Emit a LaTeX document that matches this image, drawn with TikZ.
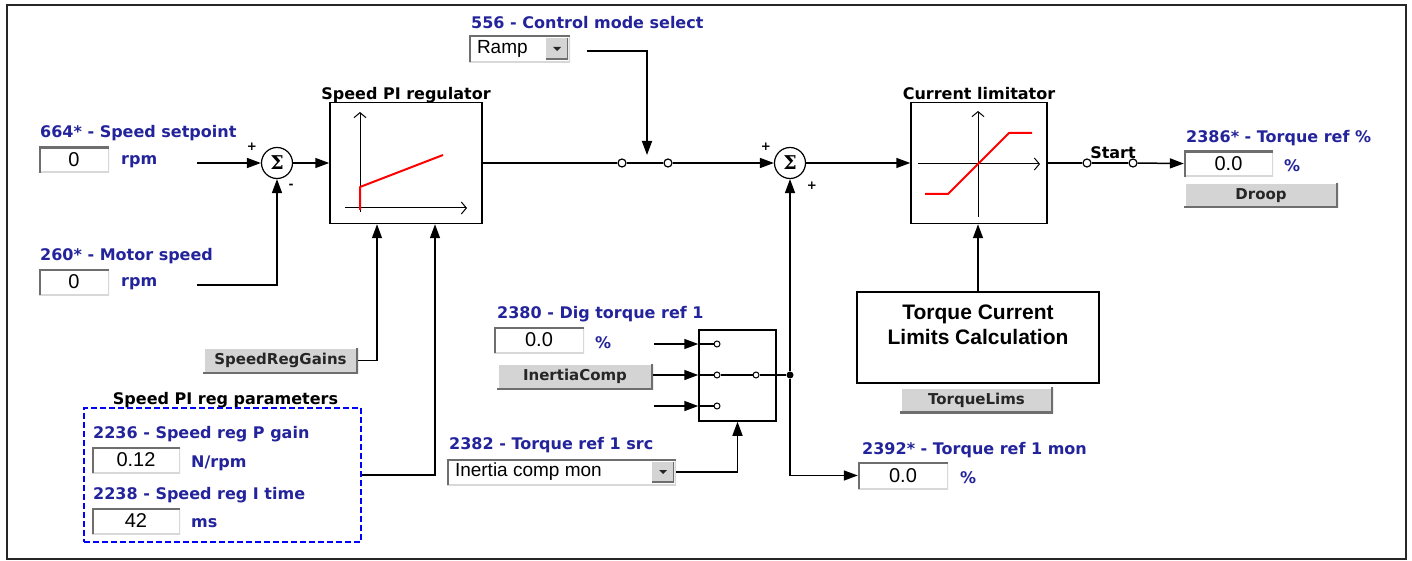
\documentclass[tikz,border=0pt]{standalone}
\usepackage{fontspec}
\setmainfont{DejaVu Sans}
\newfontfamily\arialfont{Liberation Sans}
\newfontfamily\sigmafont{DejaVu Serif}
\usetikzlibrary{arrows.meta,positioning}

\definecolor{lblblue}{HTML}{23239B}
\definecolor{btngray}{HTML}{D4D4D4}
\definecolor{darkedge}{HTML}{6E6E6E}
\definecolor{lightedge}{HTML}{D8D8D8}

\newcommand{\lblfont}{\bfseries\fontsize{16}{18}\selectfont}
\newcommand{\btnfont}{\bfseries\fontsize{15}{17}\selectfont}
\newcommand{\valfont}{\arialfont\fontsize{20}{22}\selectfont}
\newcommand{\ddfont}{\arialfont\fontsize{19}{21}\selectfont}

\tikzset{
  wire/.style={line width=1.5pt},
  arr/.style={wire, -{Triangle[length=14pt,width=10pt]}},
  axis/.style={line width=1pt, -{Straight Barb[length=5pt,width=12pt]}},
  curve/.style={line width=2pt, red, line join=round},
  blk/.style={draw, line width=1.5pt, fill=white, inner sep=0pt},
  lbl/.style={anchor=west, inner sep=0pt, text=lblblue, font=\lblfont},
  ttl/.style={inner sep=0pt, font=\lblfont},
  bigtxt/.style={inner sep=0pt, align=center, font=\arialfont\bfseries\fontsize{21}{25}\selectfont},
  sumnode/.style={circle, draw, line width=1.2pt, fill=white, minimum size=31pt, inner sep=0pt, font=\sigmafont\bfseries\fontsize{19}{19}\selectfont},
  sign/.style={inner sep=0pt, font=\bfseries\fontsize{12}{12}\selectfont},
  contact/.style={circle, draw, line width=1.2pt, fill=white, minimum size=8pt, inner sep=0pt},
  pin/.style={circle, draw, line width=1pt, fill=white, minimum size=6pt, inner sep=0pt},
  dot/.style={circle, fill, minimum size=7pt, inner sep=0pt},
  field/.style={fill=white, minimum height=26pt, inner sep=0pt, font=\valfont,
    path picture={
      \draw[lightedge, line width=3pt] (path picture bounding box.north east) -- (path picture bounding box.south east) -- (path picture bounding box.south west);
      \draw[darkedge, line width=3.5pt] (path picture bounding box.south west) -- (path picture bounding box.north west) -- (path picture bounding box.north east);}},
  button/.style={fill=btngray, minimum height=26pt, inner sep=0pt, font=\btnfont, text=black!85,
    path picture={
      \draw[white, line width=3pt] (path picture bounding box.south west) -- (path picture bounding box.north west) -- (path picture bounding box.north east);
      \draw[darkedge, line width=4pt] (path picture bounding box.south west) -- (path picture bounding box.south east) -- (path picture bounding box.north east);}},
  ddtext/.style={inner sep=0pt, font=\ddfont},
  ddbtn/.style={fill=btngray, minimum width=22pt, minimum height=21pt, inner sep=0pt,
    path picture={
      \draw[darkedge, line width=3pt] (path picture bounding box.south west) -- (path picture bounding box.south east) -- (path picture bounding box.north east);}},
  ddmark/.style={fill=black!85}
}

\begin{document}
\begin{tikzpicture}[x=1pt, y=-1pt]
	\useasboundingbox (0,0) rectangle (1412,561);
	\draw[line width=2.5pt, black!85] (7,5) rectangle (1406,559);

	% speed inputs
	\node[lbl] (splbl) at (40,133) {664* - Speed setpoint};
	\node[field, minimum width=70pt] (spval) at (74,160) {0};
	\node[lbl] (spunit) at (121,162) {rpm};
	\node[lbl] (mslbl) at (40,256) {260* - Motor speed};
	\node[field, minimum width=70pt] (msval) at (74,282) {0};
	\node[lbl] (msunit) at (121,284) {rpm};
	\coordinate (spout) at (197,163);
	\coordinate (msout) at (197,285);
	\node[sumnode] (sum1) at (277,163) {Σ};
	\node[sign] (sum1p) at (252,147) {+};
	\node[sign] (sum1m) at (291,186) {-};
	\draw[arr] (spout) -- (sum1);
	\draw[arr] (msout) -| (sum1);

	% speed PI regulator
	\node[blk, minimum width=152pt, minimum height=121pt] (pi) at (406,163) {};
	\node[ttl, anchor=base] (pittl) at ([yshift=2pt]pi.north) {Speed PI regulator};
	\draw[axis] (345,208) -- (467,208);
	\draw[axis] (360,212) -- (360,112);
	\draw[curve] (360,210) -- (360,187) -- (443,155);
	\draw[arr] (sum1) -- (pi);

	% control mode switch
	\node[lbl] (modelbl) at (471,23) {556 - Control mode select};
	\node[field, minimum width=101pt, minimum height=27pt] (mode) at (519.5,49) {};
	\node[ddtext, right=8pt of mode.west] (modetxt) {Ramp};
	\node[ddbtn, left=2pt of mode.east] (modebtn) {};
	\fill[ddmark] ([xshift=-4pt,yshift=2pt]modebtn.center) -- ++(8pt,0pt) -- ++(-4pt,-4pt) -- cycle;
	\coordinate (modeout) at (587,51);
	\coordinate (modein) at (647,155);
	\node[contact] (ma) at (622,163) {};
	\node[contact] (mb) at (668,163) {};
	\draw[wire] (pi.east) -- (ma);
	\draw[wire] (ma) -- (mb);
	\draw[arr] (modeout) -| (modein);

	% torque sum and current limitator
	\node[sumnode] (sum2) at (790,163) {Σ};
	\node[sign] (sum2p) at (766,147) {+};
	\node[sign] (sum2q) at (812,186) {+};
	\draw[arr] (mb) -- (sum2);
	\node[blk, minimum width=136pt, minimum height=121pt] (lim) at (979,163) {};
	\node[ttl, anchor=base] (limttl) at ([yshift=2pt]lim.north) {Current limitator};
	\draw[axis] (918,164) -- (1040,164);
	\draw[axis] (978,217) -- (978,111);
	\draw[curve] (925,194) -- (948,194) -- (1009,133) -- (1032,133);
	\draw[arr] (sum2) -- (lim);

	% output
	\node[contact] (sa) at (1087,163) {};
	\node[contact] (sb) at (1133,163) {};
	\node[ttl] (startlbl) at (1113,153) {Start};
	\node[lbl] (tqlbl) at (1186,138) {2386* - Torque ref \%};
	\node[field, minimum width=89pt] (tqval) at (1228.5,164) {0.0};
	\node[lbl] (tqunit) at (1284,166) {\%};
	\node[button, minimum width=154pt, minimum height=25pt] (droop) at (1261,195.5) {Droop};
	\draw[wire] (lim.east) -- (sa);
	\draw[wire] (sa) -- (sb);
	\draw[arr] (sb) -- (tqval);

	% torque limits
	\node[blk, minimum width=242pt, minimum height=91pt] (tcl) at (978,337.5) {};
	\node[bigtxt] (tcltxt) at (978,324.5) {Torque Current\\Limits Calculation};
	\node[button, minimum width=153pt] (tlims) at (976.5,400) {TorqueLims};
	\draw[arr] (tcl.north) -- (tcl.north |- lim.south);

	% torque ref 1 selector
	\node[lbl] (diglbl) at (497,314) {2380 - Dig torque ref 1};
	\node[field, minimum width=90pt] (digval) at (539,340) {0.0};
	\node[lbl] (digunit) at (595,343) {\%};
	\node[button, minimum width=156pt] (icomp) at (575,376.5) {InertiaComp};
	\node[blk, minimum width=77pt, minimum height=91pt] (sel) at (737.5,375.5) {};
	\node[pin] (s1) at (717,344) {};
	\node[pin] (s2) at (717,375) {};
	\node[pin] (s3) at (717,406) {};
	\node[pin] (s0) at (756,375) {};
	\node[dot] (jn) at (790,375) {};
	\coordinate (in1) at (654,344);
	\coordinate (in3) at (654,406);
	\draw[arr] (in1) -- (sel.west |- s1);
	\draw[arr] (icomp.east |- s2) -- (sel.west |- s2);
	\draw[arr] (in3) -- (sel.west |- s3);
	\draw[wire] (sel.west |- s1) -- (s1);
	\draw[wire] (sel.west |- s2) -- (s2);
	\draw[wire] (sel.west |- s3) -- (s3);
	\draw[wire] (s2) -- (s0);
	\draw[wire] (s0) -- (jn);
	\draw[arr] (jn) -- (sum2);
	\node[lbl] (srclbl) at (449,445) {2382 - Torque ref 1 src};
	\node[field, minimum width=229pt] (src) at (561.5,472) {};
	\node[ddtext, right=8pt of src.west] (srctxt) {Inertia comp mon};
	\node[ddbtn, left=2pt of src.east] (srcbtn) {};
	\fill[ddmark] ([xshift=-4pt,yshift=2pt]srcbtn.center) -- ++(8pt,0pt) -- ++(-4pt,-4pt) -- cycle;
	\draw[arr] (src.east) -| (sel.south);
	\node[lbl] (monlbl) at (862,450) {2392* - Torque ref 1 mon};
	\node[field, minimum width=90pt, minimum height=27pt] (monval) at (903,475.5) {0.0};
	\node[lbl] (monunit) at (960,478) {\%};
	\draw[arr] (jn) |- (monval);

	% PI gains and parameters
	\node[button, minimum width=155pt] (gains) at (280.5,360.5) {SpeedRegGains};
	\draw[arr] (gains.east) -| ([xshift=-29pt]pi.south);
	\node[ttl] (parttl) at (225.5,400) {Speed PI reg parameters};
	\node[draw=blue, dash pattern=on 6pt off 3pt, line width=2.5pt, minimum width=277pt, minimum height=134pt] (params) at (222.5,475) {};
	\node[lbl] (plbl) at (93,434) {2236 - Speed reg P gain};
	\node[field, minimum width=88pt] (pval) at (136,460) {0.12};
	\node[lbl] (punit) at (191,463) {N/rpm};
	\node[lbl] (ilbl) at (93,495) {2238 - Speed reg I time};
	\node[field, minimum width=88pt] (ival) at (136,521) {42};
	\node[lbl] (iunit) at (191,523) {ms};
	\draw[arr] (params.east) -| ([xshift=29pt]pi.south);
\end{tikzpicture}
\end{document}
